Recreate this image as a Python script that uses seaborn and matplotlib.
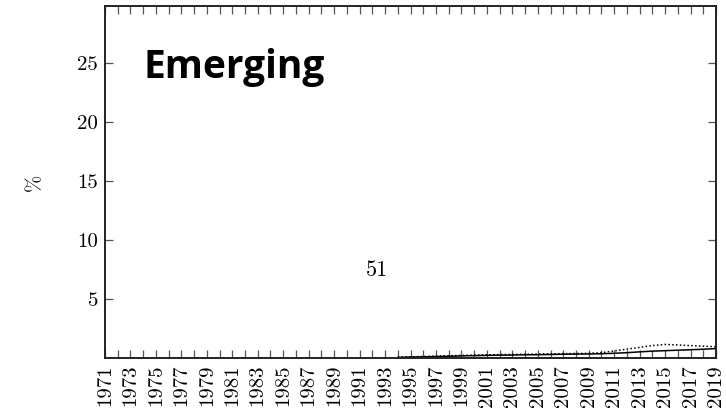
import numpy as np
import pandas as pd
import matplotlib
matplotlib.use('Agg')
import matplotlib.pyplot as plt
import seaborn as sns

# share for the "Emerging" group, 1994-2019 (%)
years = list(range(1994, 2020))
solid_vals = [0.05, 0.08, 0.10, 0.12, 0.15, 0.18, 0.20, 0.22, 0.24, 0.25, 0.27,
              0.28, 0.30, 0.32, 0.33, 0.34, 0.36, 0.40, 0.45, 0.52, 0.58, 0.62,
              0.66, 0.70, 0.74, 0.80]
dotted_vals = [0.08, 0.10, 0.13, 0.16, 0.19, 0.22, 0.25, 0.27, 0.29, 0.30, 0.32,
               0.33, 0.35, 0.37, 0.38, 0.40, 0.45, 0.60, 0.75, 0.90, 1.05, 1.15,
               1.10, 1.05, 1.00, 0.95]
tick_years = list(range(1971, 2020, 2))

df = pd.DataFrame({'year': years * 2,
                   'value': solid_vals + dotted_vals,
                   'series': ['a'] * len(years) + ['b'] * len(years)})

sns.set_style('ticks')
plt.rcParams['font.family'] = ['cmr10', 'DejaVu Serif']
plt.rcParams['axes.formatter.use_mathtext'] = True
plt.rcParams['text.color'] = 'black'
plt.rcParams['axes.labelcolor'] = 'black'
plt.rcParams['xtick.labelcolor'] = 'black'
plt.rcParams['ytick.labelcolor'] = 'black'

fig = plt.figure(figsize=(7.26, 4.19), dpi=100)
ax = fig.add_axes([105 / 726, 1 - 358 / 419, 611 / 726, 352 / 419])

sns.lineplot(data=df, x='year', y='value', style='series',
             dashes={'a': '', 'b': (1, 1.5)}, color='black', linewidth=1.1,
             legend=False, ax=ax)

ax.set_xlim(1971, 2019)
ax.set_ylim(0, 29.8)
ax.set_xticks(tick_years)
ax.set_xticklabels([str(y) for y in tick_years], rotation=90, fontsize=15)
ax.set_xticks(range(1971, 2020), minor=True)
ax.set_yticks([5, 10, 15, 20, 25])
ax.set_yticklabels(['5', '10', '15', '20', '25'], fontsize=15)
ax.tick_params(axis='both', which='both', direction='in', top=True, right=True,
               length=6, width=0.9, color='#555555')
ax.tick_params(axis='both', which='major', pad=5)
for s in ax.spines.values():
    s.set_linewidth(1.4)
    s.set_color('#222222')

ax.set_xlabel('')
ax.set_ylabel('%', fontsize=15, labelpad=24)

ax.text(1992.4, 7.45, '51', fontsize=16, ha='center', va='center')
ax.text(1974.0, 24.6, 'Emerging', fontsize=28, fontweight='bold',
        family=['Open Sans', 'DejaVu Sans'], ha='left', va='center')

fig.savefig('out.png', dpi=100)
